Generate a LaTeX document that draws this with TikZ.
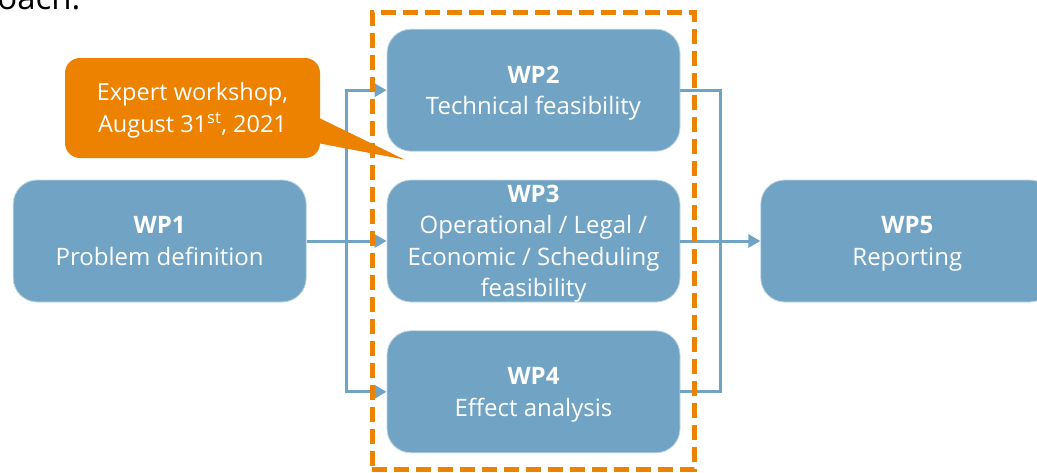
\documentclass[tikz,border=0pt]{standalone}
\usepackage{fontspec}
\setmainfont{Open Sans}
\usetikzlibrary{arrows.meta, positioning, calc, fit}
\definecolor{wpblue}{RGB}{113,164,196}
\definecolor{wporange}{RGB}{237,130,0}

\begin{document}
\begin{tikzpicture}[
            x=1pt, y=-1pt,
            node distance=28pt and 80pt,
            wp/.style={rectangle, fill=wpblue, draw=wpblue!45!white, line width=0.8pt, rounded corners=24pt, minimum width=293pt, minimum height=122pt, inner ysep=1pt, text depth=-3pt, align=center, text=white, font=\fontsize{24}{31.5}\selectfont},
            link/.style={draw=wpblue, line width=3pt},
            arrow/.style={link, -{Triangle[length=12pt, width=13pt]}},
            group/.style={draw=wporange, line width=5pt, dash pattern=on 15pt off 7pt},
            callout/.style={rectangle, fill=wporange, rounded corners=15pt, minimum width=255pt, minimum height=100pt, text depth=-3pt, align=center, text=white, font=\fontsize{23.5}{32}\selectfont}
        ]
        \useasboundingbox (0,0) rectangle (1037,472);

        % tail of the sentence above
        \node[anchor=base east, font=\fontsize{33}{40}\selectfont] (intro) at (84,9) {approach.};

        % Work packages
        \node[wp] (wp3) at (533.5,241) {\textbf{WP3}\\Operational / Legal /\\Economic / Scheduling\\feasibility};
        \node[wp, above=of wp3] (wp2) {\textbf{WP2}\\Technical feasibility};
        \node[wp, below=of wp3] (wp4) {\textbf{WP4}\\Effect analysis};
        \node[wp, left=of wp3] (wp1) {\textbf{WP1}\\Problem definition};
        \node[wp, right=of wp3] (wp5) {\textbf{WP5}\\Reporting};

        % Split and merge points
        \coordinate (split) at ($(wp1.east)!0.5!(wp3.west)$);
        \coordinate (merge) at ($(wp3.east)!0.5!(wp5.west)$);

        \draw[arrow] (wp1) -- (wp3);
        \draw[arrow] (split) |- (wp2);
        \draw[arrow] (split) |- (wp4);
        \draw[link] (wp2) -| (merge);
        \draw[link] (wp4) -| (merge);
        \draw[arrow] (wp3) -- (wp5);

        % Dashed frame round WP2--WP4
        \node[group, fit=(wp2)(wp4), inner xsep=14.5pt, inner ysep=16pt] (frame) {};

        % Workshop callout
        \node[callout] (note) at (192.5,108) {Expert workshop,\\August 31\textsuperscript{st}, 2021};
        \coordinate (tip) at ([xshift=18pt, yshift=-8pt]wp2.south west);
        \fill[wporange] ([xshift=-3pt, yshift=-9pt]note.east) -- (tip) -- ([xshift=-3pt, yshift=-35pt]note.east) -- cycle;

    \end{tikzpicture}
\end{document}
